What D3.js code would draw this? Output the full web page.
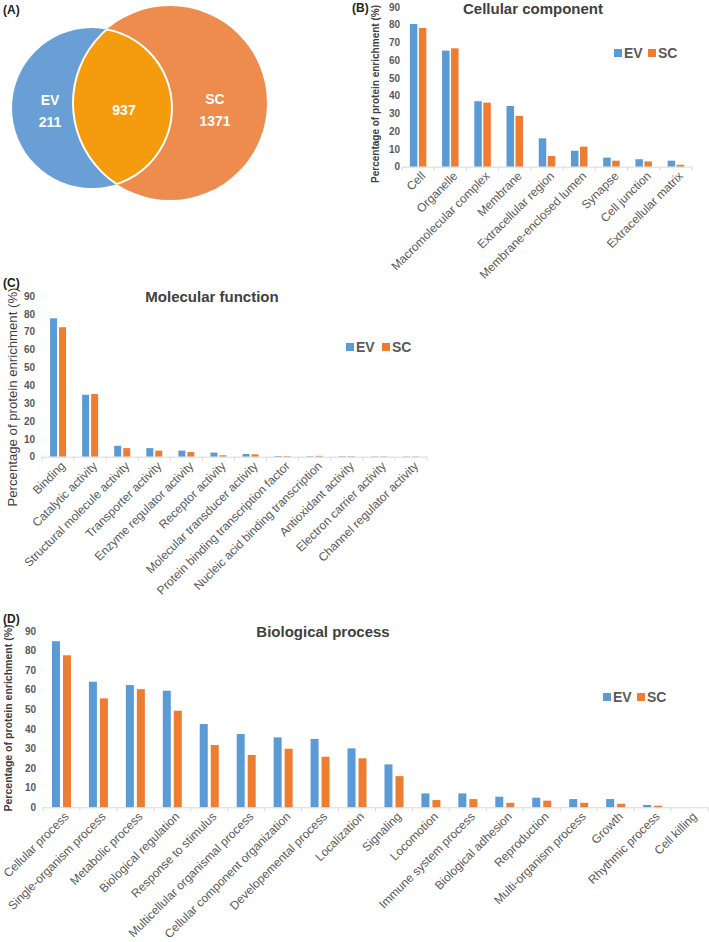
<!DOCTYPE html>
<html>
<head>
<meta charset="utf-8">
<script src="https://cdn.jsdelivr.net/npm/d3@7"></script>
<style>
  body { margin: 0; background: #fff; }
  svg { font-family: "Liberation Sans", Arial, sans-serif; }
</style>
</head>
<body>
<div id="chart"></div>
<script>
// Dati
const series = ["EV", "SC"];
const colors = { EV: "#5B9BD5", SC: "#ED7D31" };
const yTicks = [0, 10, 20, 30, 40, 50, 60, 70, 80, 90];

const vennOnlyEV = 211;
const vennShared = 937;
const vennOnlySC = 1371;

const ccCategories = ["Cell", "Organelle", "Macromolecular complex", "Membrane",
  "Extracellular region", "Membrane-enclosed lumen", "Synapse", "Cell junction",
  "Extracellular matrix"];
const ccEV = [80.4, 65.4, 36.9, 34.2, 16.0, 9.0, 5.1, 4.2, 3.4];
const ccSC = [78.2, 66.7, 36.1, 28.6, 6.0, 11.3, 3.4, 3.0, 1.1];

const mfCategories = ["Binding", "Catalytic activity", "Structural molecule activity",
  "Transporter activity", "Enzyme regulator activity", "Receptor activity",
  "Molecular transducer activity", "Protein binding transcription factor",
  "Nucleic acid binding transcription", "Antioxidant activity",
  "Electron carrier activity", "Channel regulator activity"];
const mfEV = [77.5, 34.7, 6.1, 4.8, 3.4, 2.3, 1.5, 0.4, 0.3, 0.3, 0.2, 0.2];
const mfSC = [72.5, 35.1, 4.8, 3.4, 2.6, 0.8, 1.3, 0.4, 0.5, 0.3, 0.2, 0.2];

const bpCategories = ["Cellular process", "Single-organism process", "Metabolic process",
  "Biological regulation", "Response to stimulus", "Multicellular organismal process",
  "Cellular component organization", "Developemental process", "Localization",
  "Signaling", "Locomotion", "Immune system process", "Biological adhesion",
  "Reproduction", "Multi-organism process", "Growth", "Rhythmic process", "Cell killing"];
const bpEV = [84.8, 64.1, 62.4, 59.5, 42.5, 37.4, 35.7, 34.9, 30.1, 21.9, 7.1, 7.1, 5.4, 4.9, 4.2, 4.2, 1.2, 0];
const bpSC = [77.6, 55.6, 60.3, 49.3, 31.8, 26.7, 29.9, 25.8, 25.0, 15.9, 3.7, 4.2, 2.3, 3.4, 2.3, 1.8, 0.8, 0];

const svg = d3.select("#chart").append("svg")
  .attr("width", 709)
  .attr("height", 942);

// Pannello (A): diagramma di Venn
const venn = svg.append("g");
venn.append("text").attr("x", 3).attr("y", 14)
  .attr("font-size", 12).attr("font-weight", "bold").attr("fill", "#222").text("(A)");

const cEV = { x: 92, y: 108, r: 80 };
const cSC = { x: 170, y: 103, r: 97 };

venn.append("circle").attr("cx", cSC.x).attr("cy", cSC.y).attr("r", cSC.r).attr("fill", "#EE8C4D");
venn.append("circle").attr("cx", cEV.x).attr("cy", cEV.y).attr("r", cEV.r).attr("fill", "#6A9FD5");

venn.append("clipPath").attr("id", "clipEV")
  .append("circle").attr("cx", cEV.x).attr("cy", cEV.y).attr("r", cEV.r);
venn.append("circle").attr("cx", cSC.x).attr("cy", cSC.y).attr("r", cSC.r)
  .attr("clip-path", "url(#clipEV)").attr("fill", "#F59B0E");
// bordo bianco della lente
venn.append("circle").attr("cx", cSC.x).attr("cy", cSC.y).attr("r", cSC.r)
  .attr("clip-path", "url(#clipEV)").attr("fill", "none").attr("stroke", "#fff").attr("stroke-width", 2);
venn.append("clipPath").attr("id", "clipSC")
  .append("circle").attr("cx", cSC.x).attr("cy", cSC.y).attr("r", cSC.r);
venn.append("circle").attr("cx", cEV.x).attr("cy", cEV.y).attr("r", cEV.r)
  .attr("clip-path", "url(#clipSC)").attr("fill", "none").attr("stroke", "#fff").attr("stroke-width", 2);

const vennText = [
  { x: 50, y: 105, t: "EV" }, { x: 50, y: 127, t: vennOnlyEV },
  { x: 124, y: 115, t: vennShared },
  { x: 215, y: 104, t: "SC" }, { x: 215, y: 126, t: vennOnlySC }
];
venn.selectAll("text.v").data(vennText).join("text")
  .attr("class", "v")
  .attr("x", d => d.x).attr("y", d => d.y)
  .attr("text-anchor", "middle")
  .attr("font-size", 14).attr("font-weight", "bold").attr("fill", "#fff")
  .text(d => d.t);

// Funzione per un grafico a barre raggruppate
function barPanel(o) {
  const g = svg.append("g");
  const x = d3.scaleBand().domain(o.categories).range([o.x0, o.x1]);
  const bw = x.bandwidth();
  const inner = d3.scaleBand().domain(series)
    .range([bw / 2 - o.barW - o.gap / 2, bw / 2 + o.barW + o.gap / 2])
    .paddingInner(o.gap / (o.barW + o.gap));
  const y = d3.scaleLinear().domain([0, 90]).range([o.y0, o.y90]);

  const rows = o.categories.map((c, i) => ({ c, EV: o.ev[i], SC: o.sc[i] }));

  // barre
  g.selectAll("g.cat").data(rows).join("g")
    .attr("transform", d => `translate(${x(d.c)},0)`)
    .selectAll("rect").data(d => series.map(s => ({ s, v: d[s] }))).join("rect")
    .attr("x", d => inner(d.s))
    .attr("width", inner.bandwidth())
    .attr("y", d => y(d.v))
    .attr("height", d => y(0) - y(d.v))
    .attr("fill", d => colors[d.s]);

  // asse x
  g.append("line").attr("x1", o.x0).attr("x2", o.x1)
    .attr("y1", o.y0 + 0.5).attr("y2", o.y0 + 0.5)
    .attr("stroke", "#D9D9D9").attr("stroke-width", 1);
  g.selectAll("line.tk").data(o.categories.concat(["_end"])).join("line")
    .attr("class", "tk")
    .attr("x1", (d, i) => o.x0 + i * bw).attr("x2", (d, i) => o.x0 + i * bw)
    .attr("y1", o.y0).attr("y2", o.y0 + 4)
    .attr("stroke", "#D9D9D9");

  g.selectAll("text.xl").data(o.categories).join("text")
    .attr("class", "xl")
    .attr("transform", d => `translate(${x(d) + bw / 2 + 5},${o.y0 + 7}) rotate(-45)`)
    .attr("text-anchor", "end")
    .attr("dy", "0.35em")
    .attr("font-size", 12).attr("fill", "#595959")
    .text(d => d);

  // asse y (solo etichette)
  const yAxis = d3.axisLeft(y).tickValues(yTicks).tickSize(0).tickPadding(0);
  const ya = g.append("g").attr("transform", `translate(${o.tickRight},0)`).call(yAxis);
  ya.select(".domain").remove();
  ya.selectAll("text").attr("font-size", 10).attr("font-weight", "bold")
    .attr("fill", "#595959").attr("font-family", "Liberation Sans, Arial, sans-serif");

  // titolo asse y
  g.append("text")
    .attr("transform", `translate(${o.ylabX},${o.ylabY}) rotate(-90)`)
    .attr("text-anchor", "middle")
    .attr("font-size", o.ylabSize).attr("font-weight", o.ylabWeight)
    .attr("fill", "#404040")
    .attr("textLength", o.ylabLen).attr("lengthAdjust", "spacingAndGlyphs")
    .text("Percentage of protein enrichment  (%)");

  // titolo
  g.append("text").attr("x", o.titleX).attr("y", o.titleY)
    .attr("text-anchor", "middle").attr("font-size", 15).attr("font-weight", "bold")
    .attr("fill", "#404040").text(o.title);

  // lettera del pannello
  g.append("text").attr("x", o.tagX).attr("y", o.tagY)
    .attr("font-size", 12).attr("font-weight", "bold").attr("fill", "#222").text(o.tag);

  // legenda
  const leg = g.selectAll("g.leg").data(series).join("g")
    .attr("transform", (d, i) => `translate(${o.legX + i * o.legStep},${o.legY})`);
  leg.append("rect").attr("x", 0).attr("y", -4).attr("width", 8).attr("height", 8)
    .attr("fill", d => colors[d]);
  leg.append("text").attr("x", 10).attr("dy", "0.36em")
    .attr("font-size", 14).attr("font-weight", "bold").attr("fill", "#595959")
    .text(d => d);
}

barPanel({
  categories: ccCategories, ev: ccEV, sc: ccSC,
  x0: 402, x1: 692, y0: 166.7, y90: 7, barW: 7.5, gap: 1.5, tickRight: 400,
  ylabX: 379, ylabY: 94, ylabSize: 10, ylabWeight: "bold", ylabLen: 178,
  title: "Cellular component", titleX: 533, titleY: 14,
  tag: "(B)", tagX: 352, tagY: 12,
  legX: 614, legY: 53, legStep: 34
});

barPanel({
  categories: mfCategories, ev: mfEV, sc: mfSC,
  x0: 42, x1: 427, y0: 456.7, y90: 296, barW: 7, gap: 2, tickRight: 35,
  ylabX: 17, ylabY: 397, ylabSize: 13, ylabWeight: "normal", ylabLen: 219,
  title: "Molecular function", titleX: 212, titleY: 302,
  tag: "(C)", tagX: 3, tagY: 287,
  legX: 346, legY: 347, legStep: 36
});

barPanel({
  categories: bpCategories, ev: bpEV, sc: bpSC,
  x0: 43, x1: 708, y0: 807.3, y90: 631, barW: 8, gap: 3, tickRight: 36,
  ylabX: 12, ylabY: 718, ylabSize: 10, ylabWeight: "bold", ylabLen: 187,
  title: "Biological process", titleX: 323, titleY: 637,
  tag: "(D)", tagX: 3, tagY: 623,
  legX: 603, legY: 697, legStep: 34
});
</script>
</body>
</html>
